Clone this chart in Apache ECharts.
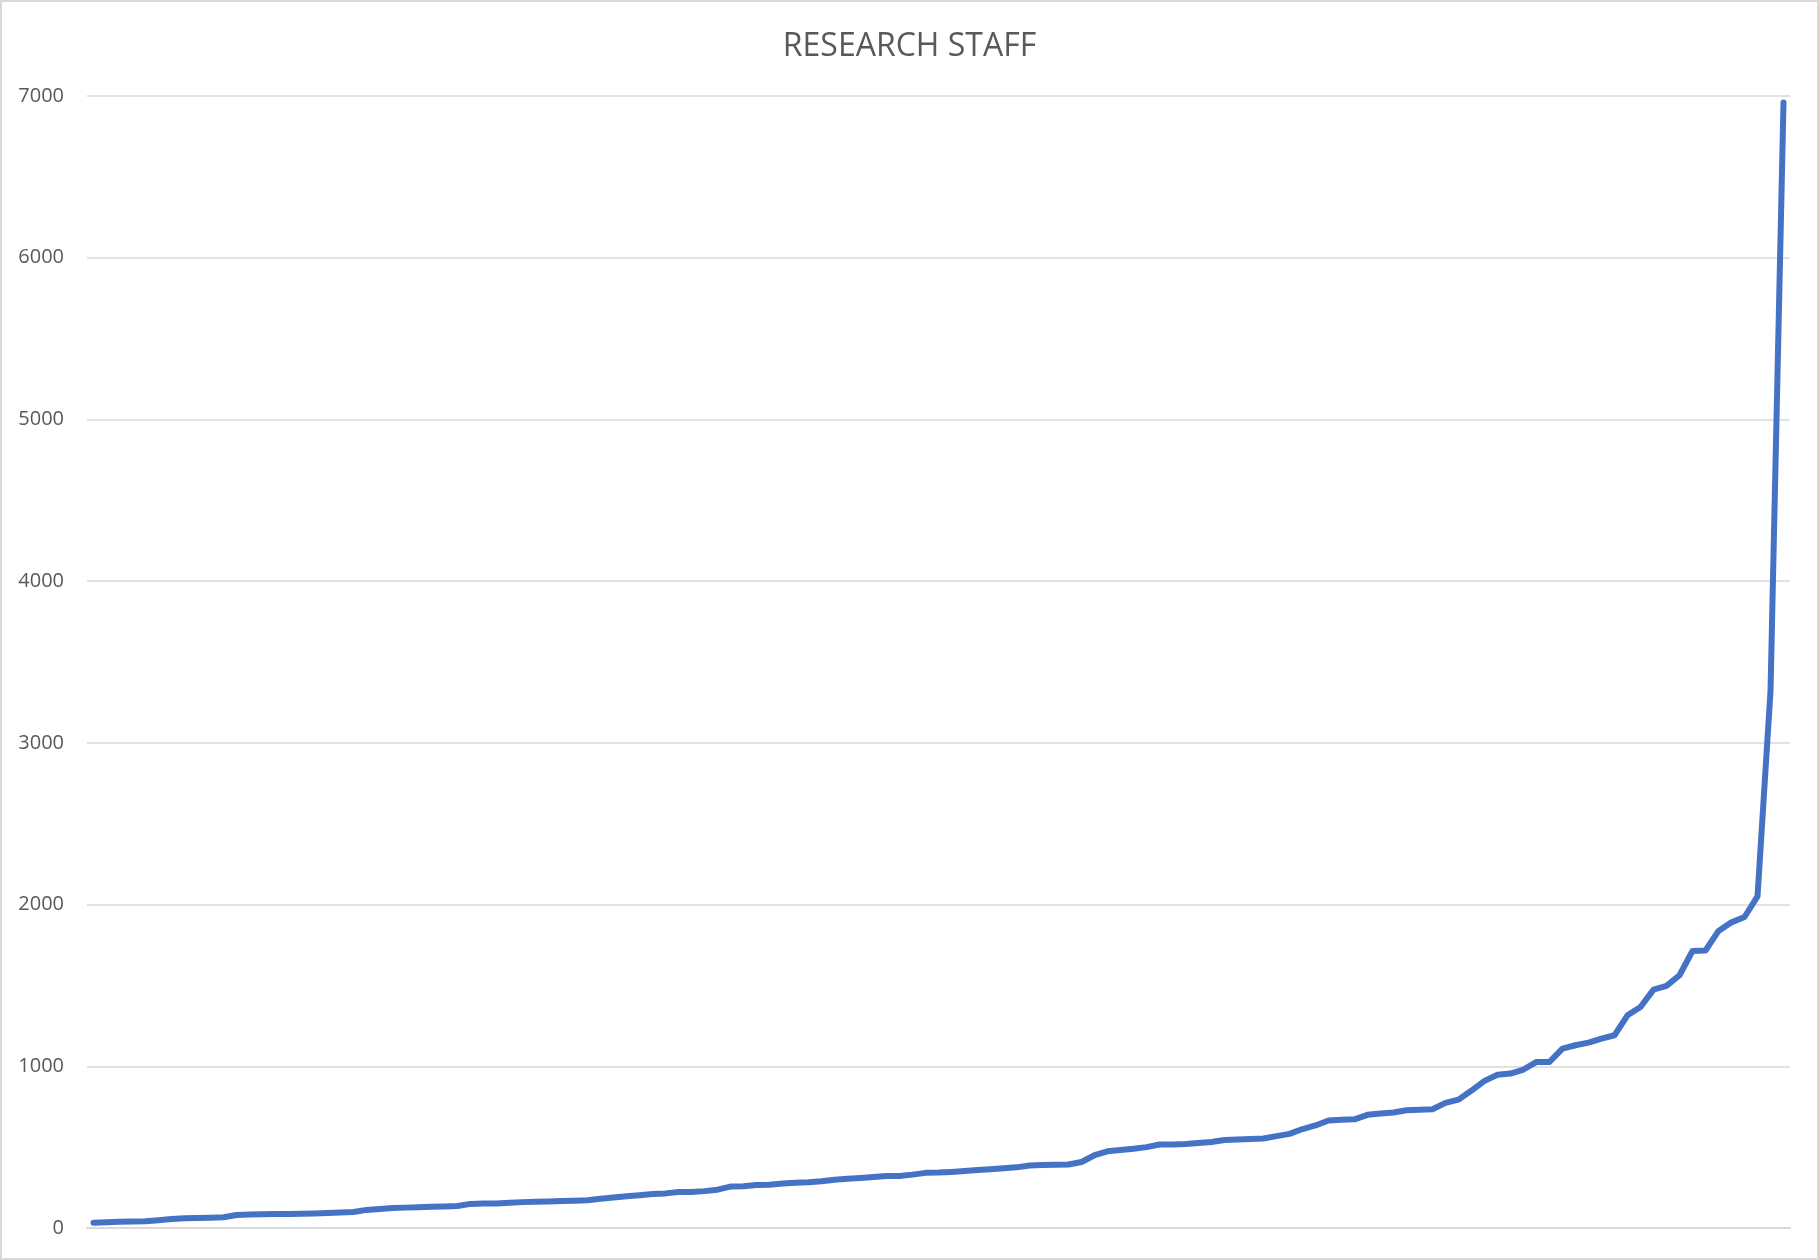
<!DOCTYPE html>
<html>
<head>
<meta charset="utf-8">
<script src="https://cdn.jsdelivr.net/npm/echarts@6/dist/echarts.min.js"></script>
<style>
html,body{margin:0;padding:0;background:#fff;}
#chart{width:1819px;height:1260px;box-sizing:border-box;border:2px solid #d9d9d9;}
</style>
</head>
<body>
<div id="chart"></div>
<script>
const titleText = "RESEARCH STAFF";
const yTicks = [0, 1000, 2000, 3000, 4000, 5000, 6000, 7000];
const staffValues = [
  33, 35, 38, 40, 42, 48, 55, 60, 62, 64,
  67, 80, 84, 85, 86, 87, 88, 90, 93, 96,
  99, 112, 118, 123, 126, 128, 131, 133, 136, 149,
  151, 151, 156, 160, 162, 164, 167, 169, 172, 181,
  189, 196, 203, 210, 214, 223, 223, 228, 237, 256,
  258, 266, 268, 275, 280, 283, 289, 298, 304, 309,
  315, 321, 322, 330, 341, 343, 347, 352, 358, 363,
  369, 375, 387, 389, 391, 393, 408, 450, 474, 482,
  490, 500, 516, 517, 519, 525, 532, 544, 548, 550,
  553, 568, 582, 612, 634, 665, 669, 672, 700, 708,
  714, 728, 731, 734, 774, 794, 850, 910, 948, 955,
  980, 1027, 1027, 1109, 1130, 1146, 1171, 1192, 1315, 1367,
  1474, 1497, 1563, 1713, 1716, 1837, 1890, 1923, 2051, 3320,
  6960
];
const categories = staffValues.map((v, i) => String(i + 1));

const chart = echarts.init(document.getElementById('chart'), null, {renderer: 'canvas'});
chart.setOption({
  backgroundColor: '#ffffff',
  animation: false,
  title: {
    text: titleText,
    left: 'center',
    top: 24,
    textStyle: {
      fontFamily: 'Open Sans',
      fontSize: 32,
      fontWeight: 'normal',
      color: '#595959'
    }
  },
  grid: {
    left: 85,
    right: 27,
    top: 94,
    bottom: 30,
    containLabel: false
  },
  xAxis: {
    type: 'category',
    data: categories,
    boundaryGap: true,
    axisLine: {show: true, lineStyle: {color: '#d9d9d9', width: 2}},
    axisTick: {show: false},
    axisLabel: {show: false},
    splitLine: {show: false}
  },
  yAxis: {
    type: 'value',
    min: yTicks[0],
    max: yTicks[yTicks.length - 1],
    interval: 1000,
    axisLine: {show: false},
    axisTick: {show: false},
    axisLabel: {
      margin: 23,
      fontFamily: 'Open Sans',
      fontSize: 20,
      color: '#595959',
      formatter: function (v) { return String(v); }
    },
    splitLine: {lineStyle: {color: '#d9d9d9', width: 1.5}}
  },
  series: [{
    type: 'line',
    data: staffValues,
    symbol: 'none',
    smooth: false,
    lineStyle: {color: '#4472C4', width: 6, join: 'round', cap: 'round'},
    itemStyle: {color: '#4472C4'}
  }]
});
</script>
</body>
</html>
